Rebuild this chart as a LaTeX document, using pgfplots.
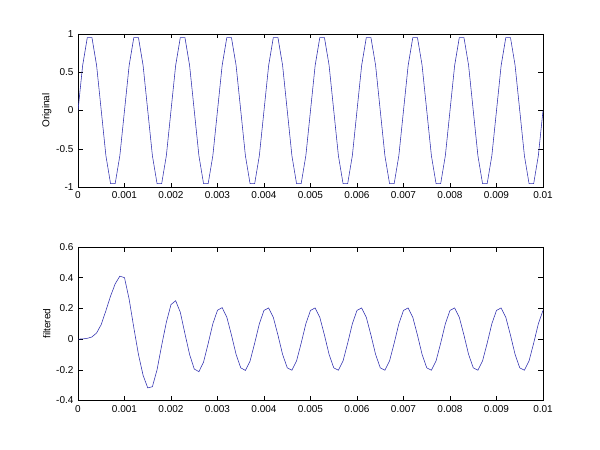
\documentclass[border=0pt]{standalone}
\usepackage{fontspec}
\setmainfont{Liberation Sans}
\usepackage{pgfplots}
\usepackage{pgfplotstable}
\pgfplotsset{compat=1.18}
\definecolor{mline}{RGB}{45,45,175}
\pgfplotstableread{
t orig filt
0.0000 0 0
0.0001 0.5878 0.001
0.0002 0.9511 0.005
0.0003 0.9511 0.014
0.0004 0.5878 0.040
0.0005 0 0.095
0.0006 -0.5878 0.185
0.0007 -0.9511 0.280
0.0008 -0.9511 0.360
0.0009 -0.5878 0.410
0.0010 0 0.400
0.0011 0.5878 0.260
0.0012 0.9511 0.075
0.0013 0.9511 -0.100
0.0014 0.5878 -0.236
0.0015 0 -0.318
0.0016 -0.5878 -0.310
0.0017 -0.9511 -0.200
0.0018 -0.9511 -0.040
0.0019 -0.5878 0.110
0.0020 0 0.225
0.0021 0.5878 0.250
0.0022 0.9511 0.175
0.0023 0.9511 0.035
0.0024 0.5878 -0.100
0.0025 0 -0.195
0.0026 -0.5878 -0.212
0.0027 -0.9511 -0.150
0.0028 -0.9511 -0.028
0.0029 -0.5878 0.100
0.0030 0 0.188
0.0031 0.5878 0.205
0.0032 0.9511 0.143
0.0033 0.9511 0.027
0.0034 0.5878 -0.100
0.0035 0 -0.187
0.0036 -0.5878 -0.204
0.0037 -0.9511 -0.143
0.0038 -0.9511 -0.026
0.0039 -0.5878 0.100
0.0040 0 0.187
0.0041 0.5878 0.203
0.0042 0.9511 0.142
0.0043 0.9511 0.026
0.0044 0.5878 -0.100
0.0045 0 -0.187
0.0046 -0.5878 -0.203
0.0047 -0.9511 -0.142
0.0048 -0.9511 -0.026
0.0049 -0.5878 0.100
0.0050 0 0.187
0.0051 0.5878 0.203
0.0052 0.9511 0.142
0.0053 0.9511 0.026
0.0054 0.5878 -0.100
0.0055 0 -0.187
0.0056 -0.5878 -0.203
0.0057 -0.9511 -0.142
0.0058 -0.9511 -0.026
0.0059 -0.5878 0.100
0.0060 0 0.187
0.0061 0.5878 0.203
0.0062 0.9511 0.142
0.0063 0.9511 0.026
0.0064 0.5878 -0.100
0.0065 0 -0.187
0.0066 -0.5878 -0.203
0.0067 -0.9511 -0.142
0.0068 -0.9511 -0.026
0.0069 -0.5878 0.100
0.0070 0 0.187
0.0071 0.5878 0.203
0.0072 0.9511 0.142
0.0073 0.9511 0.026
0.0074 0.5878 -0.100
0.0075 0 -0.187
0.0076 -0.5878 -0.203
0.0077 -0.9511 -0.142
0.0078 -0.9511 -0.026
0.0079 -0.5878 0.100
0.0080 0 0.187
0.0081 0.5878 0.203
0.0082 0.9511 0.142
0.0083 0.9511 0.026
0.0084 0.5878 -0.100
0.0085 0 -0.187
0.0086 -0.5878 -0.203
0.0087 -0.9511 -0.142
0.0088 -0.9511 -0.026
0.0089 -0.5878 0.100
0.0090 0 0.187
0.0091 0.5878 0.203
0.0092 0.9511 0.142
0.0093 0.9511 0.026
0.0094 0.5878 -0.100
0.0095 0 -0.187
0.0096 -0.5878 -0.203
0.0097 -0.9511 -0.142
0.0098 -0.9511 -0.026
0.0099 -0.5878 0.100
0.0100 0 0.187
}\datatable

\pgfplotsset{
  mlab/.style={
    scale only axis,
    width=465pt,
    height=153.5pt,
    anchor=south west,
    xmin=0, xmax=0.01,
    scaled x ticks=false,
    scaled y ticks=false,
    xtick={0,0.001,0.002,0.003,0.004,0.005,0.006,0.007,0.008,0.009,0.01},
    xticklabels={0,0.001,0.002,0.003,0.004,0.005,0.006,0.007,0.008,0.009,0.01},
    tick align=inside,
    major tick length=4.65pt,
    axis line style={black, line width=0.5pt},
    every tick/.style={black, line width=0.5pt},
    tick label style={font=\fontsize{10}{12}\selectfont, black},
    label style={font=\fontsize{10}{12}\selectfont, black},
    every axis y label/.style={at={(axis description cs:-0.067,0.5)}, rotate=90, anchor=center},
    xticklabel style={yshift=-1pt},
    yticklabel style={xshift=-1pt},
  }
}

\begin{document}
\begin{tikzpicture}[x=1pt,y=1pt]
\useasboundingbox[fill=white] (0,0) rectangle (600,450);
\begin{axis}[mlab, at={(78pt,262.7pt)},
  ymin=-1, ymax=1,
  ytick={-1,-0.5,0,0.5,1},
  yticklabels={-1,-0.5,0,0.5,1},
  ylabel={Original}]
\addplot[mline, line width=0.55pt, mark=none] table[x=t, y=orig] {\datatable};
\end{axis}
\begin{axis}[mlab, at={(78pt,49.5pt)},
  ymin=-0.4, ymax=0.6,
  ytick={-0.4,-0.2,0,0.2,0.4,0.6},
  yticklabels={-0.4,-0.2,0,0.2,0.4,0.6},
  ylabel={filtered}]
\addplot[mline, line width=0.55pt, mark=none] table[x=t, y=filt] {\datatable};
\end{axis}
\end{tikzpicture}
\end{document}
